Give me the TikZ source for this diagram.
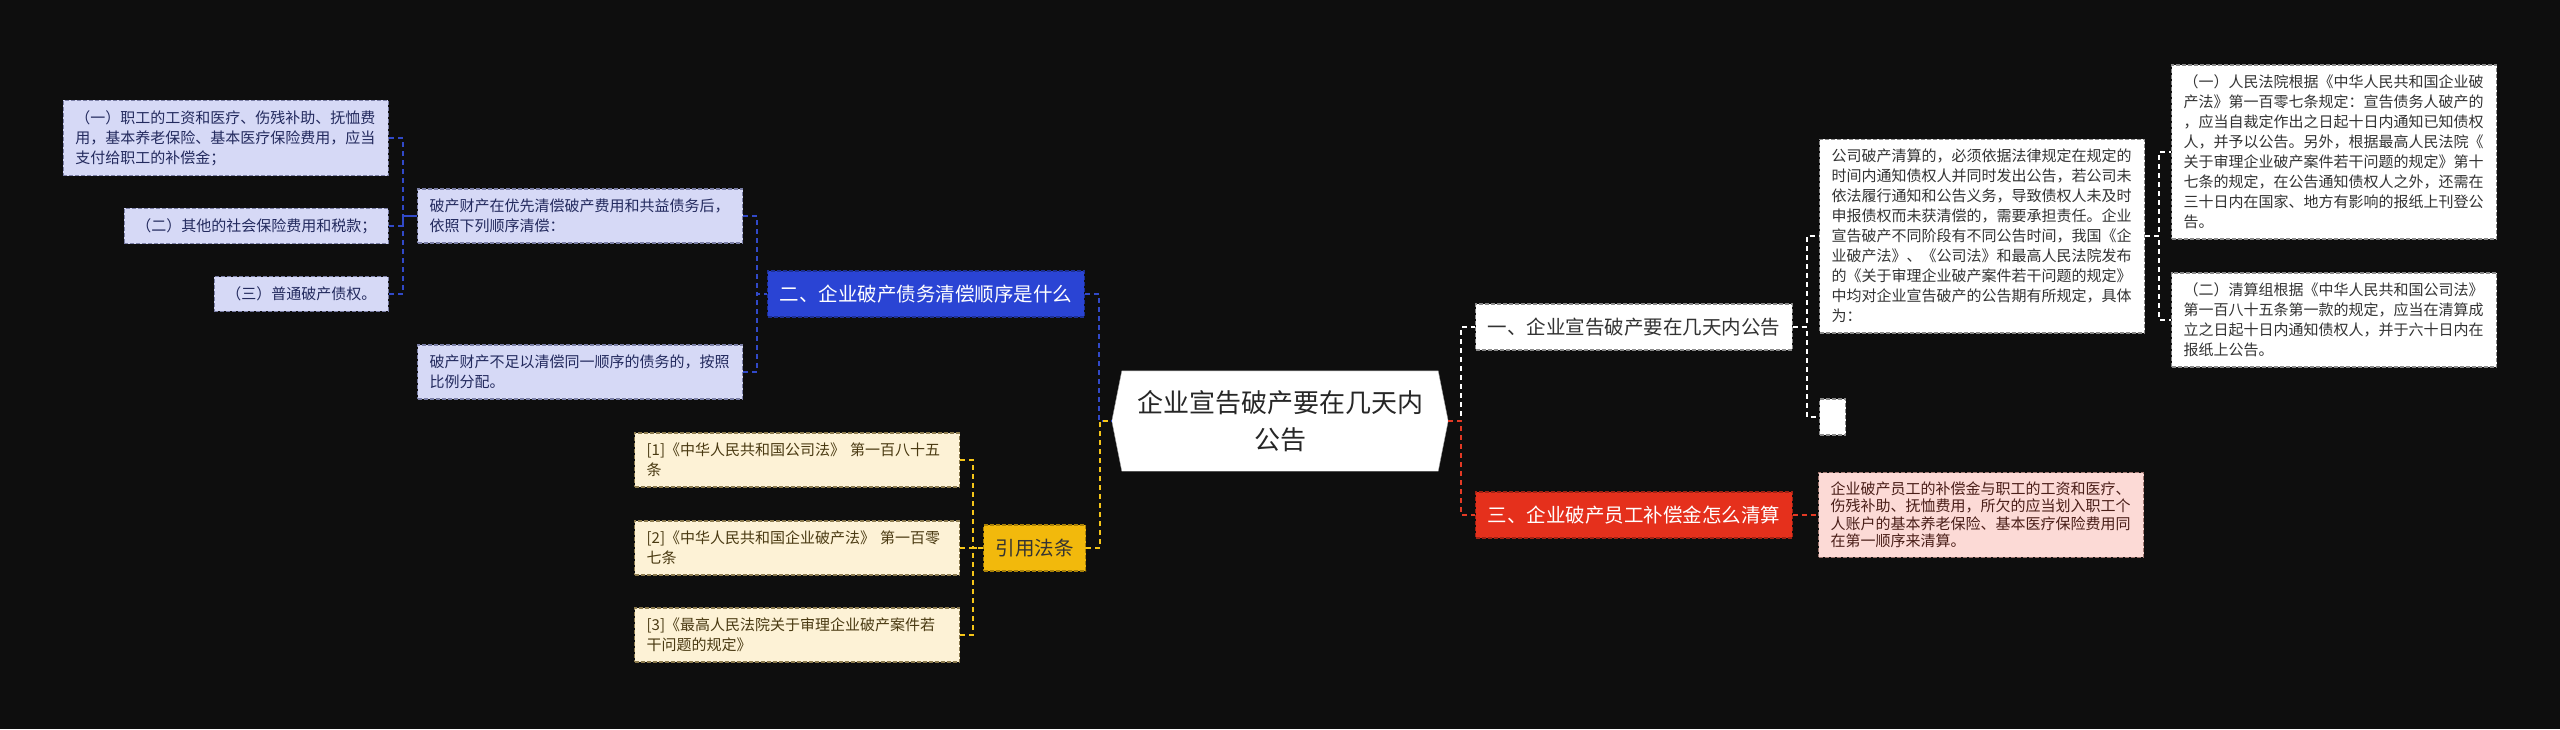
\documentclass[tikz,border=0pt]{standalone}
\usepackage{fontspec}
\newfontfamily\cjk{Noto Sans CJK SC}
\usepackage{tikz}
\usetikzlibrary{positioning,backgrounds,calc}
\definecolor{bgdark}{HTML}{0E0E0E}
\definecolor{lavfill}{HTML}{D6D9F6}
\definecolor{lavline}{HTML}{7B7FA6}
\definecolor{lavtext}{HTML}{232A5E}
\definecolor{citefill}{HTML}{FDF2D6}
\definecolor{citeline}{HTML}{8C7B4F}
\definecolor{citetext}{HTML}{4A3A12}
\definecolor{greyline}{HTML}{8A8A8A}
\definecolor{darktext}{HTML}{333333}
\definecolor{pinkfill}{HTML}{FCDAD6}
\definecolor{pinkline}{HTML}{A07872}
\definecolor{pinktext}{HTML}{4A1E18}
\definecolor{bluenode}{HTML}{2A44D4}
\definecolor{goldnode}{HTML}{F2B90C}
\definecolor{rednode}{HTML}{E5301C}
\definecolor{linkblue}{HTML}{3149C8}
\definecolor{linkgold}{HTML}{F5C518}
\definecolor{linkred}{HTML}{E33A25}

\begin{document}
\begin{tikzpicture}[
    x=1pt, y=-1pt,
    font=\cjk,
    item/.style={draw, dash pattern=on 4pt off 2pt, line width=1.2pt, align=left, inner xsep=12pt, inner ysep=10pt, font=\cjk\fontsize{15}{20}\selectfont},
    lavbox/.style={item, fill=lavfill, draw=lavline, text=lavtext},
    citebox/.style={item, fill=citefill, draw=citeline, text=citetext, text width=301pt},
    whitebox/.style={item, fill=white, draw=greyline, text=darktext, text width=301pt},
    pinkbox/.style={item, fill=pinkfill, draw=pinkline, text=pinktext, text width=301pt, font=\cjk\fontsize{15}{17.5}\selectfont, inner ysep=9pt},
    topic/.style={draw, dash pattern=on 4pt off 2pt, line width=1.2pt, minimum height=46pt, inner xsep=12pt, font=\cjk\fontsize{19.5}{24}\selectfont},
    hub/.style={minimum width=336pt, minimum height=100pt, inner sep=0pt, align=center, text=black!85, font=\cjk\fontsize{26}{37}\selectfont},
    wire/.style={dash pattern=on 5pt off 4pt, line width=1.6pt}
]
\useasboundingbox (0,0) rectangle (2560,729);

\node[hub] (root) at (1280,421) {企业宣告破产要在几天内\\公告};

\node[topic, fill=bluenode, draw=bluenode!70!black, text=white] (n2) at (926,294) {二、企业破产债务清偿顺序是什么};
\node[topic, fill=goldnode, draw=goldnode!70!black, text=black!80] (y1) at (1034.5,548) {引用法条};
\node[topic, fill=white, draw=greyline, text=darktext, anchor=west] (n1) at (1475,327) {一、企业宣告破产要在几天内公告};
\node[topic, fill=rednode, draw=rednode!70!black, text=white, anchor=west] (n3) at (1475,515) {三、企业破产员工补偿金怎么清算};

\node[lavbox, text width=301pt, anchor=west] (p1) at (417,216) {破产财产在优先清偿破产费用和共益债务后，\\依照下列顺序清偿：};
\node[lavbox, text width=301pt, anchor=west] (p2) at (417,372) {破产财产不足以清偿同一顺序的债务的，按照\\比例分配。};
\node[lavbox, text width=301pt, anchor=east] (l1) at (389,138) {（一）职工的工资和医疗、伤残补助、抚恤费\\用，基本养老保险、基本医疗保险费用，应当\\支付给职工的补偿金；};
\node[lavbox, anchor=east] (l2) at (389,226) {（二）其他的社会保险费用和税款；};
\node[lavbox, anchor=east] (l3) at (389,294) {（三）普通破产债权。};

\node[citebox, anchor=west] (c1) at (634,460) {[1]《中华人民共和国公司法》 第一百八十五\\条};
\node[citebox, anchor=west] (c2) at (634,548) {[2]《中华人民共和国企业破产法》 第一百零\\七条};
\node[citebox, anchor=west] (c3) at (634,635) {[3]《最高人民法院关于审理企业破产案件若\\干问题的规定》};

\node[whitebox, anchor=west] (b1) at (1819,236) {公司破产清算的，必须依据法律规定在规定的\\时间内通知债权人并同时发出公告，若公司未\\依法履行通知和公告义务，导致债权人未及时\\申报债权而未获清偿的，需要承担责任。企业\\宣告破产不同阶段有不同公告时间，我国《企\\业破产法》、《公司法》和最高人民法院发布\\的《关于审理企业破产案件若干问题的规定》\\中均对企业宣告破产的公告期有所规定，具体\\为：};
\node[whitebox, text width=, minimum width=26pt, minimum height=36pt, inner sep=0pt, anchor=west] (e1) at (1819,417) {};
\node[whitebox, anchor=west] (bA) at (2171,152) {（一）人民法院根据《中华人民共和国企业破\\产法》第一百零七条规定：宣告债务人破产的\\，应当自裁定作出之日起十日内通知已知债权\\人，并予以公告。另外，根据最高人民法院《\\关于审理企业破产案件若干问题的规定》第十\\七条的规定，在公告通知债权人之外，还需在\\三十日内在国家、地方有影响的报纸上刊登公\\告。};
\node[whitebox, anchor=west] (bB) at (2171,320) {（二）清算组根据《中华人民共和国公司法》\\第一百八十五条第一款的规定，应当在清算成\\立之日起十日内通知债权人，并于六十日内在\\报纸上公告。};
\node[pinkbox, anchor=west] (pk) at (1818,515) {企业破产员工的补偿金与职工的工资和医疗、\\伤残补助、抚恤费用，所欠的应当划入职工个\\人账户的基本养老保险、基本医疗保险费用同\\在第一顺序来清算。};

\foreach \i in {l1,l2,l3}
  \draw[wire, draw=linkblue] (\i.east) -- ++(14,0) |- (p1.west);
\foreach \i in {p1,p2}
  \draw[wire, draw=linkblue] (\i.east) -- ++(14,0) |- (n2.west);
\foreach \i in {c1,c2,c3}
  \draw[wire, draw=linkgold] (\i.east) -- ++(13,0) |- (y1.west);
\foreach \i/\c in {n2/linkblue, y1/linkgold}
  \draw[wire, draw=\c] (\i.east) -- ++(14,0) |- (root.west);
\foreach \i/\c in {n1/white, n3/linkred}
  \draw[wire, draw=\c] (root.east) -- ++(13,0) |- (\i.west);
\foreach \i in {b1,e1}
  \draw[wire, draw=white] (n1.east) -- ++(14,0) |- (\i.west);
\foreach \i in {bA,bB}
  \draw[wire, draw=white] (b1.east) -- ++(14,0) |- (\i.west);
\draw[wire, draw=linkred] (n3.east) -- (pk.west);

\begin{scope}[on background layer]
  \fill[bgdark] (0,0) rectangle (2560,729);
  \filldraw[fill=white, draw=black!40] (root.west) -- ($(root.north west)+(10,0)$) -- ($(root.north east)+(-10,0)$) -- (root.east) -- ($(root.south east)+(-10,0)$) -- ($(root.south west)+(10,0)$) -- cycle;
\end{scope}
\end{tikzpicture}
\end{document}
